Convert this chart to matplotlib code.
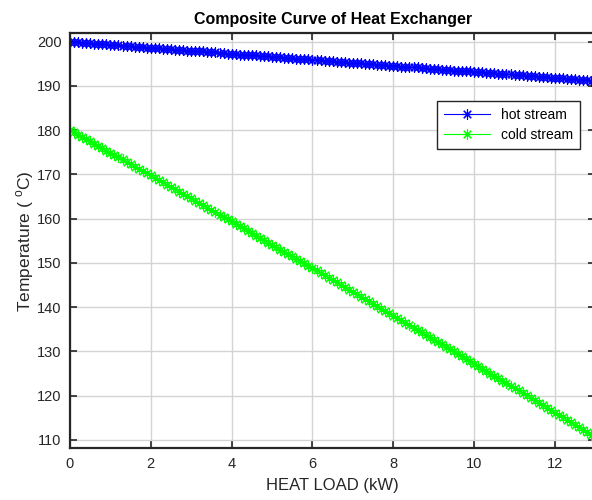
import numpy as np
import matplotlib.pyplot as plt

plt.rcParams['font.family'] = ['Liberation Sans', 'DejaVu Sans']
plt.rcParams['mathtext.fontset'] = 'custom'
plt.rcParams['mathtext.rm'] = 'Liberation Sans'

# heat load along the exchanger (kW)
heat_load = [
    0.0, 0.1, 0.2, 0.3, 0.4, 0.5, 0.6, 0.7, 0.8, 0.9,
    1.0, 1.1, 1.2, 1.3, 1.4, 1.5, 1.6, 1.7, 1.8, 1.9,
    2.0, 2.1, 2.2, 2.3, 2.4, 2.5, 2.6, 2.7, 2.8, 2.9,
    3.0, 3.1, 3.2, 3.3, 3.4, 3.5, 3.6, 3.7, 3.8, 3.9,
    4.0, 4.1, 4.2, 4.3, 4.4, 4.5, 4.6, 4.7, 4.8, 4.9,
    5.0, 5.1, 5.2, 5.3, 5.4, 5.5, 5.6, 5.7, 5.8, 5.9,
    6.0, 6.1, 6.2, 6.3, 6.4, 6.5, 6.6, 6.7, 6.8, 6.9,
    7.0, 7.1, 7.2, 7.3, 7.4, 7.5, 7.6, 7.7, 7.8, 7.9,
    8.0, 8.1, 8.2, 8.3, 8.4, 8.5, 8.6, 8.7, 8.8, 8.9,
    9.0, 9.1, 9.2, 9.3, 9.4, 9.5, 9.6, 9.7, 9.8, 9.9,
    10.0, 10.1, 10.2, 10.3, 10.4, 10.5, 10.6, 10.7, 10.8, 10.9,
    11.0, 11.1, 11.2, 11.3, 11.4, 11.5, 11.6, 11.7, 11.8, 11.9,
    12.0, 12.1, 12.2, 12.3, 12.4, 12.5, 12.6, 12.7, 12.8, 12.9,
    13.0,
]

# hot stream temperature (deg C)
hot_temp = [
    200.0, 199.9, 199.9, 199.8, 199.7, 199.7, 199.6, 199.5, 199.5, 199.4,
    199.3, 199.3, 199.2, 199.1, 199.0, 199.0, 198.9, 198.8, 198.8, 198.7,
    198.6, 198.6, 198.5, 198.4, 198.4, 198.3, 198.2, 198.2, 198.1, 198.0,
    198.0, 197.9, 197.8, 197.8, 197.7, 197.6, 197.6, 197.5, 197.4, 197.3,
    197.3, 197.2, 197.1, 197.1, 197.0, 196.9, 196.9, 196.8, 196.7, 196.7,
    196.6, 196.5, 196.5, 196.4, 196.3, 196.3, 196.2, 196.1, 196.1, 196.0,
    195.9, 195.9, 195.8, 195.7, 195.6, 195.6, 195.5, 195.4, 195.4, 195.3,
    195.2, 195.2, 195.1, 195.0, 195.0, 194.9, 194.8, 194.8, 194.7, 194.6,
    194.6, 194.5, 194.4, 194.4, 194.3, 194.2, 194.2, 194.1, 194.0, 193.9,
    193.9, 193.8, 193.7, 193.7, 193.6, 193.5, 193.5, 193.4, 193.3, 193.3,
    193.2, 193.1, 193.1, 193.0, 192.9, 192.9, 192.8, 192.7, 192.7, 192.6,
    192.5, 192.5, 192.4, 192.3, 192.2, 192.2, 192.1, 192.0, 192.0, 191.9,
    191.8, 191.8, 191.7, 191.6, 191.6, 191.5, 191.4, 191.4, 191.3, 191.2,
    191.2,
]

# cold stream temperature (deg C)
cold_temp = [
    180.0, 179.5, 179.0, 178.5, 178.0, 177.5, 176.9, 176.4, 175.9, 175.4,
    174.9, 174.4, 173.9, 173.4, 172.8, 172.3, 171.8, 171.3, 170.8, 170.3,
    169.8, 169.2, 168.7, 168.2, 167.7, 167.2, 166.7, 166.1, 165.6, 165.1,
    164.6, 164.1, 163.5, 163.0, 162.5, 162.0, 161.5, 160.9, 160.4, 159.9,
    159.4, 158.8, 158.3, 157.8, 157.3, 156.7, 156.2, 155.7, 155.2, 154.6,
    154.1, 153.6, 153.0, 152.5, 152.0, 151.5, 150.9, 150.4, 149.9, 149.3,
    148.8, 148.3, 147.7, 147.2, 146.7, 146.1, 145.6, 145.1, 144.5, 144.0,
    143.5, 142.9, 142.4, 141.9, 141.3, 140.8, 140.2, 139.7, 139.2, 138.6,
    138.1, 137.6, 137.0, 136.5, 135.9, 135.4, 134.9, 134.3, 133.8, 133.2,
    132.7, 132.1, 131.6, 131.1, 130.5, 130.0, 129.4, 128.9, 128.3, 127.8,
    127.2, 126.7, 126.1, 125.6, 125.0, 124.5, 123.9, 123.4, 122.8, 122.3,
    121.7, 121.2, 120.6, 120.1, 119.5, 119.0, 118.4, 117.9, 117.3, 116.8,
    116.2, 115.7, 115.1, 114.5, 114.0, 113.4, 112.9, 112.3, 111.8, 111.2,
    110.6,
]

x_ticks = [0, 2, 4, 6, 8, 10, 12]
y_ticks = [110, 120, 130, 140, 150, 160, 170, 180, 190, 200]

fig = plt.figure(figsize=(5.92, 5.0), dpi=100)
ax = fig.add_axes([0.1182, 0.1033, 0.8875, 0.830])

# MATLAB-style asterisk marker (8 spokes)
asterisk = (8, 2, 0)
ax.plot(heat_load, hot_temp, color=(0, 0, 1), lw=0.8, marker=asterisk,
        ms=7.5, mew=0.8, label='hot stream')
ax.plot(heat_load, cold_temp, color=(0, 1, 0), lw=0.8, marker=asterisk,
        ms=7.5, mew=0.8, label='cold stream')

ax.set_xlim(0, 13)
ax.set_ylim(108.1, 201.9)
ax.set_xticks(x_ticks)
ax.set_yticks(y_ticks)
ax.grid(True, color='#d4d4d4', lw=1.0)
ax.set_axisbelow(True)

dark = '#262626'
for s in ax.spines.values():
    s.set_color(dark)
    s.set_linewidth(1.6)
ax.tick_params(direction='in', length=5, width=1.2, colors=dark,
               labelsize=10.5, top=True, right=True, pad=6)

ax.set_title('Composite Curve of Heat Exchanger', fontsize=11.5,
             fontweight='bold', pad=7)
ax.set_xlabel('HEAT LOAD (kW)', fontsize=12, color=dark, labelpad=5)
ax.set_ylabel(r'Temperature ( $^{\rm o}$C)', fontsize=12.5, color=dark,
              labelpad=1)

leg = ax.legend(loc='upper right', bbox_to_anchor=(0.971, 0.837),
                borderaxespad=0, fontsize=10, fancybox=False,
                framealpha=1, edgecolor=dark, handlelength=3.3,
                borderpad=0.5, labelspacing=0.45)
leg.get_frame().set_linewidth(1.0)

fig.savefig('out.png', dpi=100)
